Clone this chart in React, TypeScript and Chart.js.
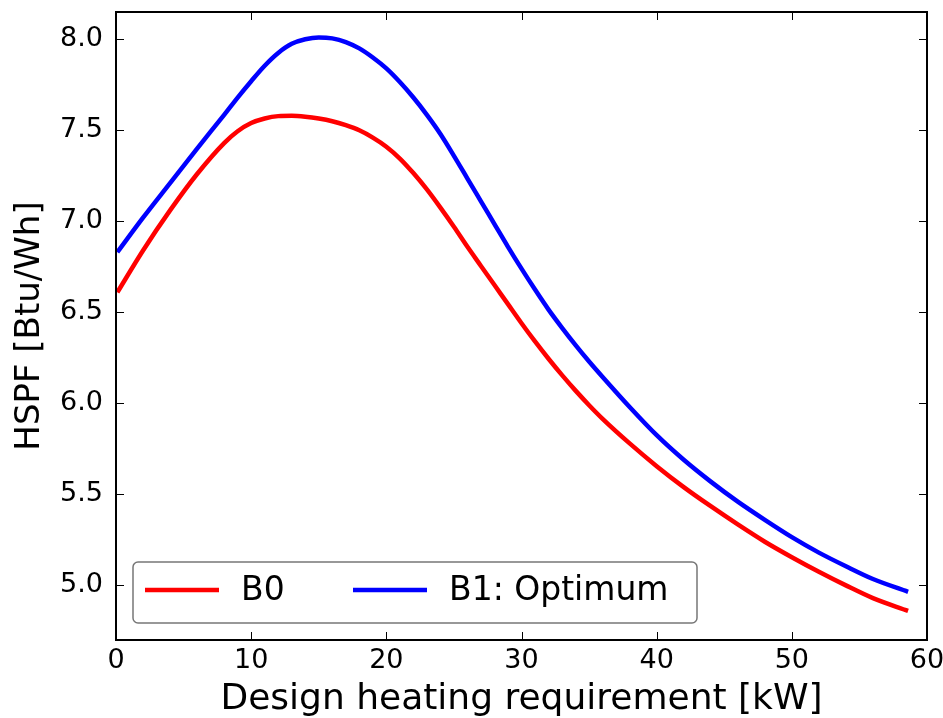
import React, { useEffect, useRef } from 'react';
import { Chart, registerables } from 'chart.js';

Chart.register(...registerables);

const xValues = [0.1, 2, 4, 6, 8, 9, 10, 11, 12, 13, 14, 15, 16, 17, 18, 19, 20, 21, 22, 23, 24, 25, 26, 27, 28, 29, 30, 31, 32, 33, 34, 35, 36, 38, 40, 42, 44, 46, 48, 50, 52, 54, 56, 58.6];
const b0Values = [6.61, 6.84, 7.06, 7.26, 7.43, 7.495, 7.54, 7.565, 7.578, 7.58, 7.575, 7.565, 7.55, 7.528, 7.5, 7.46, 7.41, 7.345, 7.265, 7.175, 7.075, 6.97, 6.86, 6.755, 6.65, 6.545, 6.44, 6.34, 6.245, 6.155, 6.07, 5.99, 5.915, 5.78, 5.655, 5.54, 5.435, 5.335, 5.24, 5.155, 5.075, 5.0, 4.93, 4.86];
const b1Values = [6.83, 7.02, 7.21, 7.4, 7.585, 7.68, 7.77, 7.855, 7.925, 7.975, 8.0, 8.01, 8.005, 7.985, 7.95, 7.9, 7.84, 7.765, 7.68, 7.585, 7.48, 7.36, 7.235, 7.11, 6.985, 6.86, 6.74, 6.625, 6.515, 6.415, 6.32, 6.23, 6.145, 5.98, 5.825, 5.69, 5.57, 5.46, 5.36, 5.265, 5.18, 5.105, 5.035, 4.965];
const seriesLabels = ['B0', 'B1: Optimum'];
const seriesColors = ['#ff0000', '#0000ff'];
const xTicks = [0, 10, 20, 30, 40, 50, 60];
const yTicks = [5.0, 5.5, 6.0, 6.5, 7.0, 7.5, 8.0];
const xTitle = 'Design heating requirement [kW]';
const yTitle = 'HSPF [Btu/Wh]';

const FONT = "'DejaVu Sans', 'Liberation Sans', sans-serif";

const framePlugin = {
  id: 'framePlugin',
  afterDatasetsDraw(chart: any) {
    const { ctx, chartArea } = chart;
    const { left, right, top, bottom } = chartArea;
    const xs = chart.scales.x;
    const ys = chart.scales.y;
    ctx.save();
    ctx.strokeStyle = '#000';
    ctx.lineWidth = 1;
    const tl = 8;
    xs.ticks.forEach((t: any) => {
      const px = Math.round(xs.getPixelForValue(t.value)) + 0.5;
      if (px <= left + 2 || px >= right - 2) return;
      ctx.beginPath();
      ctx.moveTo(px, bottom);
      ctx.lineTo(px, bottom - tl);
      ctx.moveTo(px, top);
      ctx.lineTo(px, top + tl);
      ctx.stroke();
    });
    ys.ticks.forEach((t: any) => {
      const py = Math.round(ys.getPixelForValue(t.value)) + 0.5;
      if (py <= top + 2 || py >= bottom - 2) return;
      ctx.beginPath();
      ctx.moveTo(left, py);
      ctx.lineTo(left + tl, py);
      ctx.moveTo(right, py);
      ctx.lineTo(right - tl, py);
      ctx.stroke();
    });
    ctx.lineWidth = 2;
    ctx.strokeRect(left, top, right - left, bottom - top);

    // legend
    const bx = left + 17;
    const by = bottom - 78;
    const bw = 564;
    const bh = 61;
    const r = 5;
    ctx.beginPath();
    ctx.moveTo(bx + r, by);
    ctx.lineTo(bx + bw - r, by);
    ctx.arcTo(bx + bw, by, bx + bw, by + r, r);
    ctx.lineTo(bx + bw, by + bh - r);
    ctx.arcTo(bx + bw, by + bh, bx + bw - r, by + bh, r);
    ctx.lineTo(bx + r, by + bh);
    ctx.arcTo(bx, by + bh, bx, by + bh - r, r);
    ctx.lineTo(bx, by + r);
    ctx.arcTo(bx, by, bx + r, by, r);
    ctx.closePath();
    ctx.fillStyle = '#ffffff';
    ctx.fill();
    ctx.strokeStyle = '#777777';
    ctx.lineWidth = 1.5;
    ctx.stroke();

    const cy = by + 28;
    const itemX = [bx + 12, bx + 220];
    ctx.font = `33px ${FONT}`;
    ctx.textBaseline = 'middle';
    ctx.textAlign = 'left';
    chart.data.datasets.forEach((ds: any, i: number) => {
      const x0 = itemX[i];
      ctx.strokeStyle = ds.borderColor;
      ctx.lineWidth = 4.5;
      ctx.beginPath();
      ctx.moveTo(x0, cy);
      ctx.lineTo(x0 + 74, cy);
      ctx.stroke();
      ctx.fillStyle = '#000';
      ctx.fillText(ds.label, x0 + 96, cy + 1);
    });
    ctx.restore();
  },
};

export default function App() {
  const canvasRef = useRef<HTMLCanvasElement | null>(null);

  useEffect(() => {
    const canvas = canvasRef.current;
    if (!canvas) return;
    const datasets = [b0Values, b1Values].map((vals, i) => ({
      label: seriesLabels[i],
      data: xValues.map((x, j) => ({ x, y: vals[j] })),
      borderColor: seriesColors[i],
      backgroundColor: seriesColors[i],
      borderWidth: 4.5,
      pointRadius: 0,
      fill: false,
      cubicInterpolationMode: 'monotone' as const,
    }));
    const chart = new Chart(canvas, {
      type: 'line',
      data: { datasets },
      options: {
        animation: false,
        responsive: false,
        devicePixelRatio: 1,
        layout: { padding: { top: 12, right: 16, left: 0, bottom: 0 } },
        plugins: {
          legend: { display: false },
          tooltip: { enabled: false },
        },
        scales: {
          x: {
            type: 'linear',
            min: 0,
            max: 60,
            grid: { display: false, drawTicks: false },
            border: { display: false },
            afterBuildTicks: (s: any) => {
              s.ticks = xTicks.map((v) => ({ value: v }));
            },
            afterFit: (s: any) => {
              s.height = 78;
              s.paddingLeft = 0;
              s.paddingRight = 0;
              s.paddingTop = 0;
              s.paddingBottom = 0;
            },
            ticks: {
              color: '#000',
              padding: 5,
              maxRotation: 0,
              autoSkip: false,
              font: { family: FONT, size: 27 },
              callback: (v: any) => String(v),
            },
            title: {
              display: true,
              text: xTitle,
              color: '#000',
              font: { family: FONT, size: 36, lineHeight: 1 },
              padding: { top: 0, bottom: 0 },
            },
          },
          y: {
            type: 'linear',
            min: 4.7,
            max: 8.15,
            grid: { display: false, drawTicks: false },
            border: { display: false },
            afterBuildTicks: (s: any) => {
              s.ticks = yTicks.map((v) => ({ value: v }));
            },
            afterFit: (s: any) => {
              s.width = 116;
              s.paddingLeft = 0;
              s.paddingRight = 0;
              s.paddingTop = 0;
              s.paddingBottom = 0;
            },
            ticks: {
              color: '#000',
              padding: 13,
              autoSkip: false,
              font: { family: FONT, size: 27 },
              callback: (v: any) => Number(v).toFixed(1),
            },
            title: {
              display: true,
              text: yTitle,
              color: '#000',
              font: { family: FONT, size: 34, lineHeight: 1 },
              padding: { top: 13, bottom: 0 },
            },
          },
        },
      },
      plugins: [framePlugin],
    });
    return () => chart.destroy();
  }, []);

  return (
    <div style={{ position: 'fixed', left: 0, top: 0, width: 943, height: 718, background: '#fff' }}>
      <canvas ref={canvasRef} width={943} height={718} style={{ display: 'block', width: 943, height: 718 }} />
    </div>
  );
}
